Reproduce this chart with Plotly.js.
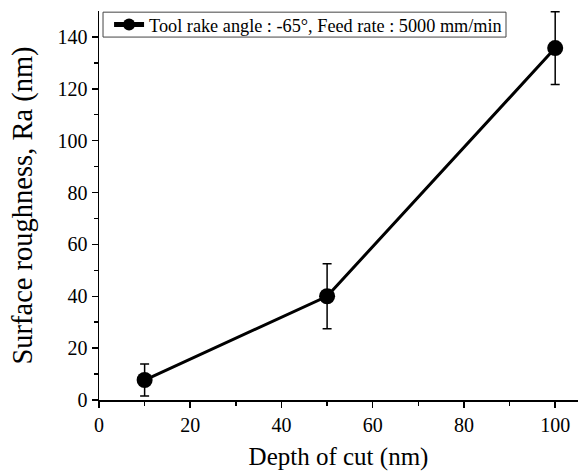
<!DOCTYPE html>
<html>
<head>
<meta charset="utf-8">
<script src="https://cdn.plot.ly/plotly-3.0.1.min.js"></script>
<style>html,body{margin:0;padding:0;background:#fff;}#chart{width:584px;height:472px;}</style>
</head>
<body>
<div id="chart"></div>
<script>
var depthOfCut = [10, 50, 100];
var roughness = [7.7, 40, 135.7];
var roughnessErr = [6.2, 12.5, 14];
var seriesName = 'Tool rake angle : -65°, Feed rate : 5000 mm/min';
var xTicks = [0, 20, 40, 60, 80, 100];
var xMinorTicks = [10, 30, 50, 70, 90];
var yTicks = [0, 20, 40, 60, 80, 100, 120, 140];
var yMinorTicks = [10, 30, 50, 70, 90, 110, 130];

var font = '"Liberation Serif", "Times New Roman", serif';

var trace = {
  x: depthOfCut,
  y: roughness,
  name: seriesName,
  type: 'scatter',
  mode: 'lines+markers',
  line: {color: '#000', width: 3},
  marker: {color: '#000', size: 16, symbol: 'circle'},
  error_y: {type: 'data', array: roughnessErr, visible: true, color: '#000', thickness: 1.5, width: 4.5}
};

var layout = {
  width: 584, height: 472,
  margin: {l: 99, r: 6, t: 11, b: 72},
  paper_bgcolor: '#fff', plot_bgcolor: '#fff',
  font: {family: font, color: '#000', size: 18},
  showlegend: true,
  legend: {x: 0.021, y: 0.965, xanchor: 'left', yanchor: 'middle', bgcolor: 'rgba(0,0,0,0)', borderwidth: 0,
           font: {family: font, size: 18.25, color: '#000'}, tracegroupgap: 0, itemsizing: 'constant'},
  shapes: [{type: 'rect', xref: 'paper', yref: 'paper', x0: 0.0084, x1: 0.8497, y0: 0.933, y1: 0.997,
            line: {color: '#444', width: 1}, fillcolor: '#fff', layer: 'below'}],
  xaxis: {
    range: [0, 105], tickvals: xTicks, showgrid: false, zeroline: false,
    showline: true, linecolor: '#000', linewidth: 1.5,
    ticks: 'outside', ticklen: 6, tickwidth: 1.5, tickcolor: '#000',
    minor: {tickvals: xMinorTicks, ticks: 'outside', ticklen: 4, tickwidth: 1.5, tickcolor: '#000', showgrid: false},
    tickfont: {family: font, size: 20, color: '#000'},
    title: {text: 'Depth of cut (nm)', font: {family: font, size: 25, color: '#000'}, standoff: 13}
  },
  yaxis: {
    range: [0, 150], tickvals: yTicks, showgrid: false, zeroline: false,
    showline: true, linecolor: '#000', linewidth: 1.5,
    ticks: 'outside', ticklen: 6, tickwidth: 1.5, tickcolor: '#000',
    minor: {tickvals: yMinorTicks, ticks: 'outside', ticklen: 4, tickwidth: 1.5, tickcolor: '#000', showgrid: false},
    tickfont: {family: font, size: 20, color: '#000'},
    title: {text: 'Surface roughness, Ra (nm)\u00A0\u00A0\u00A0\u00A0', font: {family: font, size: 28.5, color: '#000'}, standoff: 16.5}
  }
};

Plotly.newPlot('chart', [trace], layout, {displayModeBar: false, staticPlot: true});
</script>
</body>
</html>
